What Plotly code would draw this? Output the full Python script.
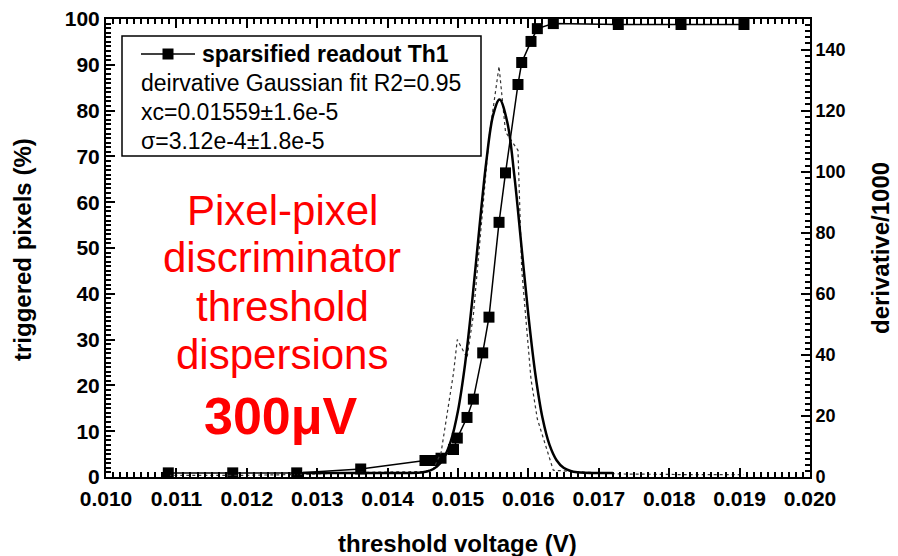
import plotly.graph_objects as go

# ---- data ----
# triggered pixels (%) vs threshold voltage (V)
x_pct = [0.010885, 0.011800, 0.012709, 0.013618, 0.014531, 0.014645, 0.014759,
         0.014936, 0.014990, 0.015128, 0.015218, 0.015351, 0.015440, 0.015583,
         0.015675, 0.015852, 0.015905, 0.016037, 0.016127, 0.016354, 0.017277,
         0.018168, 0.019062]
pct = [0.9, 0.9, 0.9, 1.75, 3.6, 3.6, 4.1,
       6.0, 8.5, 13.0, 17.0, 27.1, 34.9, 55.6,
       66.4, 85.7, 90.5, 95.1, 97.9, 99.0, 98.8,
       98.8, 98.8]

# numerical derivative / 1000 (thin dotted line, right axis)
deriv = [0.5, 0.5, 0.8, 1.5, 1.8, 2.5, 7.9,
         34, 45, 39, 53, 88, 111, 134.5,
         113, 107, 68, 32, 19, 2.2, 1.0,
         0.8, 0.8]

# Gaussian fit of the derivative (thick line, right axis)
x_fit = [0.0128, 0.0135, 0.0140, 0.0143, 0.0145, 0.0146, 0.0147, 0.0148, 0.0149,
         0.0150, 0.0151, 0.0152, 0.0153, 0.0154, 0.0155, 0.01559, 0.0157, 0.0158,
         0.0159, 0.0160, 0.0161, 0.0162, 0.0163, 0.0164, 0.0165, 0.0166, 0.0167,
         0.0168, 0.0170, 0.0172]
fit = [1.3, 1.3, 1.3, 1.32, 1.57, 2.1, 3.4, 6.3, 11.9,
       21.7, 36.9, 57.3, 80.7, 102.9, 118.6, 123.6, 116.2, 98.8,
       75.9, 52.9, 33.5, 19.4, 10.5, 5.5, 3.0, 1.95, 1.52,
       1.37, 1.3, 1.3]

x_ticks = [0.010, 0.011, 0.012, 0.013, 0.014, 0.015, 0.016, 0.017, 0.018, 0.019, 0.020]

legend_name = "sparsified readout Th1"
info_lines = ["deirvative Gaussian fit R2=0.95",
              "xc=0.01559\u00b11.6e-5",
              "\u03c3=3.12e-4\u00b11.8e-5"]
red_lines = ["Pixel-pixel", "discriminator", "threshold", "dispersions"]
red_big = "300\u03bcV"

FONT = "Liberation Sans, Arial, sans-serif"

# the page body adds an 8px offset; work in reference pixels and shift
OFF = 8
W, H = 898, 556
L, R, T, B = 106, 810, 19, 477   # plot area in reference pixels


def px(xp):
    return (xp - L) / (R - L)


def py(yp):
    return (B - yp) / (B - T)


fig = go.Figure()

fig.add_trace(go.Scatter(
    x=x_pct, y=deriv, yaxis="y2", mode="lines",
    line=dict(color="#333333", width=1.2, dash="dot"),
    showlegend=False, hoverinfo="skip"))

fig.add_trace(go.Scatter(
    x=x_fit, y=fit, yaxis="y2", mode="lines",
    line=dict(color="black", width=2.5, shape="spline"),
    showlegend=False))

fig.add_trace(go.Scatter(
    x=x_pct, y=pct, mode="lines+markers",
    line=dict(color="black", width=1.5),
    marker=dict(symbol="square", size=11, color="black"),
    name=legend_name, showlegend=False))

axis_common = dict(showline=True, linecolor="black", linewidth=2,
                   showgrid=False, zeroline=False, ticklabeloverflow="allow",
                   ticks="inside", tickcolor="black", tickwidth=1.5, ticklen=9)

fig.update_layout(
    width=W - OFF, height=H - OFF,
    margin=dict(l=L - OFF, r=W - R, t=T - OFF, b=H - B, autoexpand=False),
    paper_bgcolor="white", plot_bgcolor="white",
    font=dict(family=FONT, color="black"),
    xaxis=dict(range=[0.010, 0.020], tickvals=x_ticks, tickformat=".3f",
               mirror="ticks", ticklabelstandoff=2,
               tickfont=dict(family=FONT, size=21, color="black", weight="bold"),
               minor=dict(dtick=0.0001, ticks="inside", ticklen=5, tickcolor="black"),
               **axis_common),
    yaxis=dict(range=[0, 100], dtick=10,
               tickfont=dict(family=FONT, size=21, color="black", weight="bold"),
               minor=dict(dtick=1, ticks="inside", ticklen=5, tickcolor="black"),
               **axis_common),
    yaxis2=dict(range=[0, 150], dtick=20, overlaying="y", side="right",
                tickfont=dict(family=FONT, size=18, color="black", weight="bold"),
                minor=dict(dtick=2, ticks="inside", ticklen=5, tickcolor="black"),
                **axis_common),
    showlegend=False,
)

# legend/info box frame
fig.add_shape(type="rect", xref="paper", yref="paper",
              x0=px(122), x1=px(481), y0=py(156), y1=py(36),
              line=dict(color="black", width=1.5), fillcolor="rgba(0,0,0,0)")
# legend key: line with a square symbol
fig.add_shape(type="line", xref="paper", yref="paper",
              x0=px(141), x1=px(195), y0=py(54), y1=py(54),
              line=dict(color="black", width=1.5))
fig.add_shape(type="rect", xref="paper", yref="paper",
              x0=px(162.5), x1=px(173.5), y0=py(59.5), y1=py(48.5),
              line=dict(color="black", width=0), fillcolor="black")
fig.add_annotation(text="<b>" + legend_name + "</b>", xref="paper", yref="paper",
                   x=px(200), y=py(54), xanchor="left", yanchor="middle",
                   showarrow=False, font=dict(family=FONT, size=23, color="black"))

for i, t in enumerate(info_lines):
    fig.add_annotation(text=t, xref="paper", yref="paper",
                       x=px(139), y=py(83 + 29 * i), xanchor="left", yanchor="middle",
                       showarrow=False, font=dict(family=FONT, size=23, color="black"))

for i, t in enumerate(red_lines):
    fig.add_annotation(text=t, xref="paper", yref="paper",
                       x=px(282), y=py(210 + 48 * i), xanchor="center", yanchor="middle",
                       showarrow=False, font=dict(family=FONT, size=42, color="red"))
fig.add_annotation(text="<b>" + red_big + "</b>", xref="paper", yref="paper",
                   x=px(281), y=py(416), xanchor="center", yanchor="middle",
                   showarrow=False, font=dict(family=FONT, size=52, color="red"))

# axis titles
fig.add_annotation(text="<b>threshold voltage (V)</b>", xref="paper", yref="paper",
                   x=px(457), y=py(543), xanchor="center", yanchor="middle",
                   showarrow=False, font=dict(family=FONT, size=24, color="black"))
fig.add_annotation(text="<b>triggered pixels (%)</b>", xref="paper", yref="paper",
                   x=px(22), y=py(250), xanchor="center", yanchor="middle", textangle=-90,
                   showarrow=False, font=dict(family=FONT, size=24, color="black"))
fig.add_annotation(text="<b>derivative/1000</b>", xref="paper", yref="paper",
                   x=px(880), y=py(248), xanchor="center", yanchor="middle", textangle=-90,
                   showarrow=False, font=dict(family=FONT, size=24, color="black"))

fig.write_html("out.html")
